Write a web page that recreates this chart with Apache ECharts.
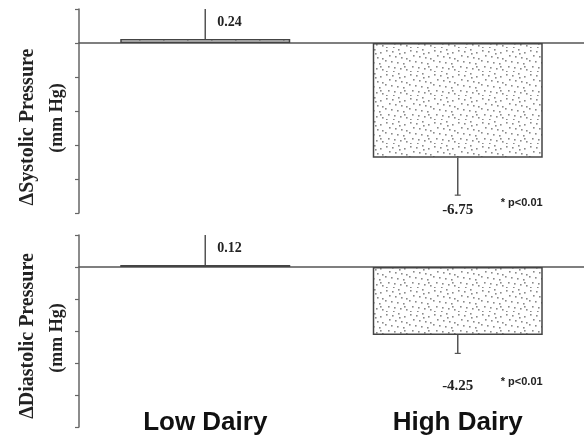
<!DOCTYPE html>
<html><head><meta charset="utf-8">
<script src="https://cdn.jsdelivr.net/npm/echarts@6/dist/echarts.min.js"></script>
<style>html,body{margin:0;padding:0;background:#fff}#c{width:584px;height:440px}</style>
</head><body><div id="c"></div>
<script>
// ---- data ----
const categories = ['Low Dairy', 'High Dairy'];
const systolic = [0.24, -6.75];
const systolicErr = [1.76, 2.2];
const diastolic = [0.12, -4.25];
const diastolicErr = [1.88, 1.15];
const sigText = ['', '* p<0.01'];
const yMin = -10, yMax = 2, yStep = 2;

// ---- stipple pattern ----
const pc = document.createElement('canvas');
pc.width = 24; pc.height = 24;
const g = pc.getContext('2d');
g.fillStyle = '#fff'; g.fillRect(0, 0, 24, 24);
g.fillStyle = '#8a8a8a';
[[2,2],[8,3],[14,1],[20,4],[5,7],[11,8],[17,9],[22,10],[1,12],[7,13],[13,14],[19,15],[4,18],[10,19],[16,20],[22,21],[2,23],[15,5],[9,23],[20,18]].forEach(p => g.fillRect(p[0], p[1], 1.6, 1.6));

const pattern = { image: pc, repeat: 'repeat' };
const serif = 'Liberation Serif';

function makeErr(labelDrop, sigDy) {
  return function (params, api) {
    const i = params.dataIndex;
    const x = api.value(0), v = api.value(1), e = api.value(2);
    const end = v >= 0 ? v + e : v - e;
    const p0 = api.coord([x, v]);
    const p1 = api.coord([x, end]);
    const children = [{
      type: 'line', shape: { x1: p0[0], y1: p0[1], x2: p1[0], y2: p1[1] },
      style: { stroke: '#555', lineWidth: 1.5 }
    }];
    const txt = v.toFixed(2);
    if (v >= 0) {
      children.push({ type: 'text', style: { x: p1[0] + 12, y: p1[1] + 13, text: txt, font: 'bold 14px ' + serif, fill: '#222', verticalAlign: 'middle', align: 'left' } });
    } else {
      children.push({ type: 'line', shape: { x1: p1[0] - 3, y1: p1[1], x2: p1[0] + 3, y2: p1[1] }, style: { stroke: '#555', lineWidth: 1.2 } });
      children.push({ type: 'text', style: { x: p1[0], y: p1[1] + labelDrop, text: txt, font: 'bold 15px ' + serif, fill: '#222', verticalAlign: 'middle', align: 'center' } });
      children.push({ type: 'text', style: { x: p1[0] + 43, y: p1[1] + labelDrop + sigDy, text: sigText[i], font: 'bold 11px Liberation Sans', fill: '#222', verticalAlign: 'middle', align: 'left' } });
    }
    return { type: 'group', children };
  };
}

const yAxisBase = (gi) => ({
  gridIndex: gi, type: 'value', min: yMin, max: yMax, interval: yStep,
  axisLine: { show: true, lineStyle: { color: '#666', width: 1.5 } },
  axisTick: { show: true, inside: false, length: 4, lineStyle: { color: '#666', width: 1.2 } },
  axisLabel: { show: false }, splitLine: { show: false }
});
const xAxisZero = (gi) => ({
  gridIndex: gi, type: 'category', data: categories,
  axisLine: { onZero: true, lineStyle: { color: '#555', width: 1.5 } },
  axisTick: { show: false }, axisLabel: { show: false }, splitLine: { show: false }
});
const barItem = { color: pattern, borderColor: '#444', borderWidth: 1.5 };

const option = {
  animation: false,
  backgroundColor: '#fff',
  grid: [
    { left: 79, right: 0, top: 9, height: 204 },
    { left: 79, right: 0, top: 235, height: 192 }
  ],
  xAxis: [
    xAxisZero(0), xAxisZero(1),
    { gridIndex: 1, type: 'category', data: categories, position: 'bottom',
      axisLine: { show: false, onZero: false }, axisTick: { show: false },
      axisLabel: { show: true, margin: -4, verticalAlign: 'middle', color: '#111', fontFamily: 'Liberation Sans', fontWeight: 'bold', fontSize: 26 } }
  ],
  yAxis: [yAxisBase(0), yAxisBase(1)],
  series: [
    { type: 'bar', xAxisIndex: 0, yAxisIndex: 0, data: systolic, barWidth: 170, itemStyle: barItem, z: 2 },
    { type: 'bar', xAxisIndex: 1, yAxisIndex: 1, data: diastolic, barWidth: 170, itemStyle: barItem, z: 2 },
    { type: 'custom', xAxisIndex: 0, yAxisIndex: 0, z: 5, renderItem: makeErr(15, -7),
      data: systolic.map((v, i) => [i, v, systolicErr[i]]) },
    { type: 'custom', xAxisIndex: 1, yAxisIndex: 1, z: 5, renderItem: makeErr(33, -4),
      data: diastolic.map((v, i) => [i, v, diastolicErr[i]]) }
  ],
  graphic: [
    { type: 'text', x: 28, y: 127, rotation: Math.PI / 2, style: { text: 'ΔSystolic Pressure', font: 'bold 20px ' + serif, fill: '#222', align: 'center', verticalAlign: 'middle' } },
    { type: 'text', x: 57, y: 118, rotation: Math.PI / 2, style: { text: '(mm Hg)', font: 'bold 18px ' + serif, fill: '#222', align: 'center', verticalAlign: 'middle' } },
    { type: 'text', x: 28, y: 336, rotation: Math.PI / 2, style: { text: 'ΔDiastolic Pressure', font: 'bold 20px ' + serif, fill: '#222', align: 'center', verticalAlign: 'middle' } },
    { type: 'text', x: 57, y: 338, rotation: Math.PI / 2, style: { text: '(mm Hg)', font: 'bold 18px ' + serif, fill: '#222', align: 'center', verticalAlign: 'middle' } }
  ]
};
echarts.init(document.getElementById('c'), null, { renderer: 'canvas' }).setOption(option);
</script></body></html>
